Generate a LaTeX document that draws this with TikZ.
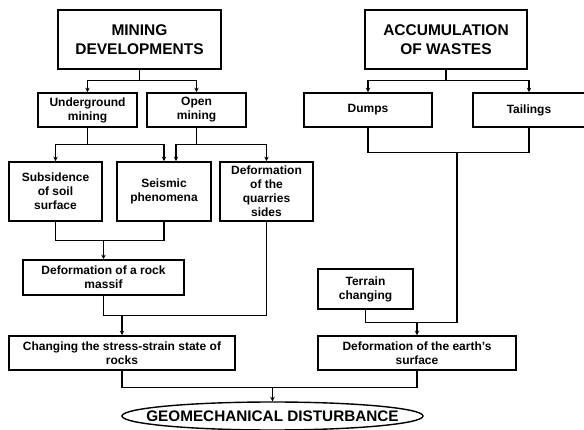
\documentclass[tikz,border=0pt]{standalone}
\usepackage{fontspec}
\setmainfont{Liberation Sans}
\usetikzlibrary{arrows.meta,shapes.geometric,calc}
\begin{document}
\begin{tikzpicture}[x=1pt,y=-1pt,
  box/.style={draw,line width=1.6pt,inner sep=1pt,align=center,font=\bfseries\fontsize{12}{14}\selectfont},
  title/.style={box,font=\bfseries\fontsize{15.5}{19}\selectfont},
  conn/.style={line width=1.1pt},
  arr/.style={conn,-{Stealth[length=4.5pt,width=4.5pt]}}
]
\useasboundingbox (0,0) rectangle (584,430);

\node[title,minimum width=163,minimum height=59] (md) at (139.5,39.5) {MINING\\DEVELOPMENTS};
\node[title,minimum width=162,minimum height=59] (aw) at (446,39.5) {ACCUMULATION\\OF WASTES};
\node[box,minimum width=99,minimum height=34] (ug) at (87.5,110) {Underground\\mining};
\node[box,minimum width=99,minimum height=34] (om) at (196.5,110) {Open\\mining};
\node[box,minimum width=128,minimum height=34] (du) at (368,110) {Dumps};
\node[box,minimum width=112,minimum height=34] (ta) at (529,110) {Tailings};
\node[box,minimum width=93,minimum height=59] (su) at (55.5,191.5) {Subsidence\\of soil\\surface};
\node[box,minimum width=94,minimum height=59] (se) at (164,191.5) {Seismic\\phenomena};
\node[box,minimum width=93,minimum height=59] (qu) at (266.5,191.5) {Deformation\\of the\\quarries\\sides};
\node[box,minimum width=161,minimum height=35] (ro) at (103.5,277.5) {Deformation of a rock\\massif};
\node[box,minimum width=95,minimum height=40] (te) at (365.5,289) {Terrain\\changing};
\node[box,minimum width=226,minimum height=34] (ch) at (122,353) {Changing the stress-strain state of\\rocks};
\node[box,minimum width=198,minimum height=34] (ea) at (417,353) {Deformation of the earth's\\surface};
\node[draw,ellipse,line width=1.4pt,minimum width=301,minimum height=28,inner xsep=-30pt,inner ysep=0pt,font=\bfseries\fontsize{15.3}{19}\selectfont] (gd) at (272.5,416) {GEOMECHANICAL DISTURBANCE};

% mining developments branch
\draw[conn] (md.south) -- ++(0,11) coordinate (mdj);
\draw[arr] (mdj) -| (ug.north);
\draw[arr] (mdj) -| (om.north);
% accumulation branch
\draw[conn] (aw.south) -- ++(0,11) coordinate (awj);
\draw[arr] (awj) -| (du.north);
\draw[arr] (awj) -| (ta.north);
% underground
\draw[conn] (ug.south) -- ++(0,17) coordinate (ugj);
\draw[arr] (ugj) -| (su.north);
\draw[arr] (ugj) -| (se.north);
% open
\draw[conn] (om.south) -- ++(0,17) coordinate (omj);
\draw[arr] (omj) -| ($(se.north)+(12,0)$);
\draw[arr] (omj) -| (qu.north);
% to rock massif
\draw[conn] (su.south) -- ++(0,19) -| (se.south);
\draw[arr] ($(ro.north|-su.south)+(0,19)$) -- (ro.north);
% to stress-strain
\draw[conn] (ro.south) -- ++(0,20) -| (qu.south);
\draw[arr] ($(ch.north|-ro.south)+(0,20)$) -- (ch.north);
% dumps/tailings to earth
\draw[conn] (du.south) -- ++(0,25) -| (ta.south);
\coordinate (dtj) at ($(du.south)!0.553!(ta.south)+(0,25)$);
\draw[conn] (te.south) -- ++(0,13) -| (dtj);
\draw[arr] ($(ea.north|-te.south)+(0,13)$) -- (ea.north);
% to geomechanical disturbance
\draw[conn] (ch.south) -- ++(0,17) -| (ea.south);
\draw[arr] ($(gd.north|-ch.south)+(0,17)$) -- (gd.north);
\end{tikzpicture}
\end{document}
